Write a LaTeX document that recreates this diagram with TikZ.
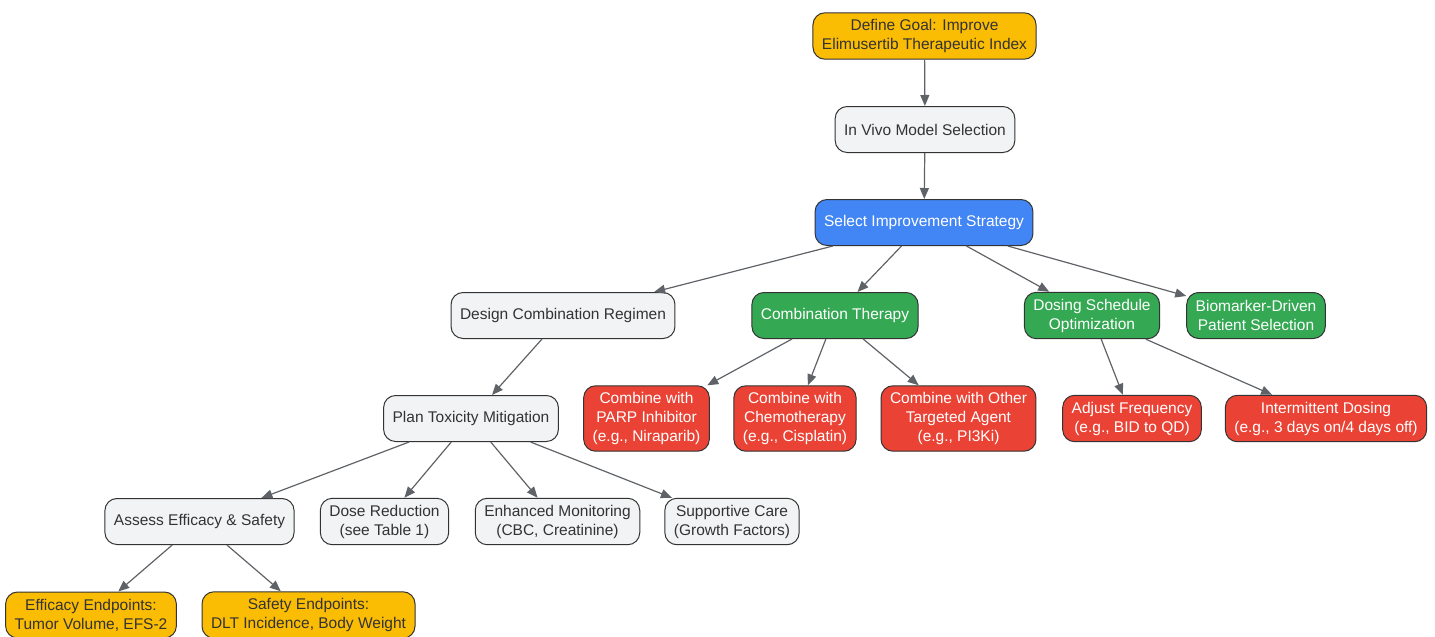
\documentclass[tikz,border=0pt]{standalone}
\usepackage{fontspec}
\setmainfont{Liberation Sans}
\usetikzlibrary{arrows.meta}
\definecolor{goalyellow}{HTML}{FBBC04}
\definecolor{stepgray}{HTML}{F1F3F4}
\definecolor{stratblue}{HTML}{4285F4}
\definecolor{optgreen}{HTML}{34A853}
\definecolor{armred}{HTML}{EA4335}
\definecolor{linkgray}{HTML}{5F6368}
\definecolor{inkdark}{HTML}{333333}
\begin{document}
\begin{tikzpicture}[x=1pt,y=-1pt,
        box/.style={draw=inkdark, line width=1pt, rounded corners=12pt, align=center,
            minimum height=46pt, inner xsep=9pt, inner ysep=6.5pt,
            font=\fontsize{15.5}{19}\selectfont},
        goal/.style={box, fill=goalyellow, text=inkdark},
        plain/.style={box, fill=stepgray, text=inkdark},
        strategy/.style={box, fill=stratblue, text=white},
        option/.style={box, fill=optgreen, text=white},
        arm/.style={box, fill=armred, text=white},
        edge/.style={draw=linkgray, line width=1.2pt, -{Triangle[length=11pt,width=9pt]}}]
    \useasboundingbox (0,0) rectangle (1435,637);
    % top of the flow
    \node[goal] (goaldef) at (924.5,36) {Define Goal: Improve\\Elimusertib Therapeutic Index};
    \node[plain] (model) at (925,129.5) {In Vivo Model Selection};
    \node[strategy] (select) at (924,222.5) {Select Improvement Strategy};
    % strategies
    \node[plain] (design) at (563,315.5) {Design Combination Regimen};
    \node[option] (combo) at (835,315.5) {Combination Therapy};
    \node[option] (dosing) at (1092,315.5) {Dosing Schedule\\Optimization};
    \node[option] (biomark) at (1256,315.5) {Biomarker-Driven\\Patient Selection};
    % second level
    \node[plain] (toxplan) at (471,418.5) {Plan Toxicity Mitigation};
    \node[arm] (parp) at (646.5,418.5) {Combine with\\PARP Inhibitor\\(e.g., Niraparib)};
    \node[arm] (chemo) at (795,418.5) {Combine with\\Chemotherapy\\(e.g., Cisplatin)};
    \node[arm] (target) at (958.5,418.5) {Combine with Other\\Targeted Agent\\(e.g., PI3Ki)};
    \node[arm] (freq) at (1132,418.5) {Adjust Frequency\\(e.g., BID to QD)};
    \node[arm] (interm) at (1326,418.5) {Intermittent Dosing\\(e.g., 3 days on/4 days off)};
    % third level
    \node[plain] (assess) at (199.5,521.5) {Assess Efficacy \& Safety};
    \node[plain] (dosered) at (384.5,521.5) {Dose Reduction\\(see Table 1)};
    \node[plain] (monitor) at (557.5,521.5) {Enhanced Monitoring\\(CBC, Creatinine)};
    \node[plain] (support) at (732,521.5) {Supportive Care\\(Growth Factors)};
    % endpoints
    \node[goal] (effend) at (91,615) {Efficacy Endpoints:\\Tumor Volume, EFS-2};
    \node[goal] (safeend) at (308.5,615) {Safety Endpoints:\\DLT Incidence, Body Weight};

    \draw[edge] (goaldef) -- (model);
    \draw[edge] (model) -- (select);
    \draw[edge] (select) -- (design);
    \draw[edge] (select) -- (combo);
    \draw[edge] (select) -- (dosing);
    \draw[edge] (select) -- (biomark);
    \draw[edge] (design) -- (toxplan);
    \draw[edge] (combo) -- (parp);
    \draw[edge] (combo) -- (chemo);
    \draw[edge] (combo) -- (target);
    \draw[edge] (dosing) -- (freq);
    \draw[edge] (dosing) -- (interm);
    \draw[edge] (toxplan) -- (assess);
    \draw[edge] (toxplan) -- (dosered);
    \draw[edge] (toxplan) -- (monitor);
    \draw[edge] (toxplan) -- (support);
    \draw[edge] (assess) -- (effend);
    \draw[edge] (assess) -- (safeend);
\end{tikzpicture}
\end{document}
